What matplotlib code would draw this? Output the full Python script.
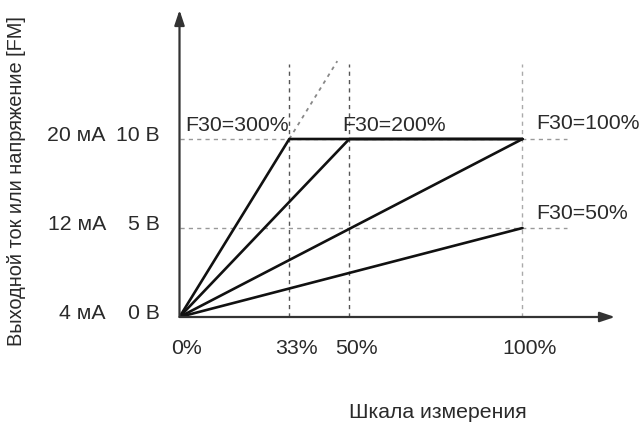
import matplotlib
matplotlib.use("Agg")
import matplotlib.pyplot as plt

# F30 gain settings and where each line saturates on the scale axis (%)
gains = [300, 200, 100, 50]
gain_labels = ["F30=300%", "F30=200%", "F30=100%", "F30=50%"]
sat_x = [32, 49.5, 100, 100]        # as drawn in the picture
sat_v = [10, 10, 10, 5]
x_ticks = [0, 32, 49.5, 100]
x_tick_labels = ["0%", "33%", "50%", "100%"]
y_ticks = [0, 5, 10]
ma_labels = ["4 мА", "12 мА", "20 мА"]
v_labels = ["0 В", "5 В", "10 В"]
v_max = 10

plt.rcParams["font.family"] = ["Liberation Sans", "DejaVu Sans"]
TXT = "#2a2a2a"

W, H = 639, 425
fig = plt.figure(figsize=(W / 100, H / 100), dpi=100)
x0, y0 = 179.5, 317
px_x = 3.43    # pixels per %
px_y = 17.8    # pixels per V
xmax = (615 - x0) / px_x
ymax = (y0 - 10) / px_y
ax = fig.add_axes([x0 / W, (H - y0) / H, (615 - x0) / W, (y0 - 10) / H])
ax.set_xlim(0, xmax)
ax.set_ylim(0, ymax)
ax.axis("off")

# axes with arrows
arrow = dict(arrowstyle="-|>,head_length=0.9,head_width=0.3", color="#333333", lw=1.6,
             shrinkA=0, shrinkB=0)
ax.annotate("", xy=(xmax, 0), xytext=(0, 0), arrowprops=arrow, annotation_clip=False)
ax.annotate("", xy=(0, ymax), xytext=(0, 0), arrowprops=arrow, annotation_clip=False)

# guide lines
for xv, col in zip(x_ticks[1:], ["#555555", "#555555", "#aaaaaa"]):
    ax.plot([xv, xv], [0, 14.2], ls=(0, (3, 3)), color=col, lw=1.0)
for yv in [5, 10]:
    ax.plot([0, 113], [yv, yv], ls=(0, (3, 3)), color="#999999", lw=1.0)

# dotted extension of the 300% line
ext_x = 46
ax.plot([sat_x[0], ext_x], [10, 10 * ext_x / sat_x[0]], ls=(0, (2, 2.5)),
        color="#888888", lw=1.3)

# characteristic lines
for xs_, vs_ in zip(sat_x, sat_v):
    if xs_ < 100:
        xs, ys = [0, xs_, 100], [0, vs_, vs_]
    else:
        xs, ys = [0, xs_], [0, vs_]
    ax.plot(xs, ys, color="#111111", lw=1.9, solid_capstyle="round")

fs = 15.3
# curve labels
ax.text(1.6, 10.25, gain_labels[0], fontsize=fs, color=TXT, va="bottom", ha="left")
ax.text(47.5, 10.25, gain_labels[1], fontsize=fs, color=TXT, va="bottom", ha="left")
ax.text(104, 10.35, gain_labels[2], fontsize=fs, color=TXT, va="bottom", ha="left")
ax.text(104, 5.3, gain_labels[3], fontsize=fs, color=TXT, va="bottom", ha="left")

# tick labels
for xv, lab in zip(x_ticks, x_tick_labels):
    ax.text(xv + 2.0, -1.75, lab, fontsize=fs, color=TXT,
            ha="center", va="center", clip_on=False)
for yv, ma, v in zip(y_ticks, ma_labels, v_labels):
    ax.text(-21.5, yv + 0.2, ma, fontsize=fs, color=TXT, ha="right", va="center", clip_on=False)
    ax.text(-5.8, yv + 0.2, v, fontsize=fs, color=TXT, ha="right", va="center", clip_on=False)

fig.text(438 / W, 1 - 412 / H, "Шкала измерения", fontsize=fs, color=TXT,
         ha="center", va="center")
fig.text(17 / W, 1 - 181 / H, "Выходной ток или напряжение [FM]", fontsize=14.4,
         color=TXT, ha="center", va="center", rotation=90)

fig.savefig("out.png", dpi=100)
